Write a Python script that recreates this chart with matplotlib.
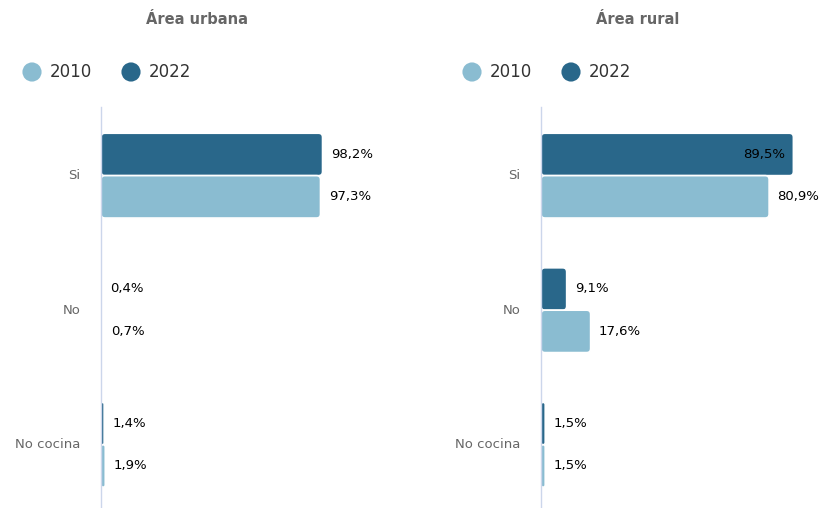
import matplotlib.pyplot as plt
from matplotlib.patches import FancyBboxPatch

# data
categories = ["Si", "No", "No cocina"]
years = ["2010", "2022"]
urbana_2010 = [97.3, 0.7, 1.9]
urbana_2022 = [98.2, 0.4, 1.4]
rural_2010 = [80.9, 17.6, 1.5]
rural_2022 = [89.5, 9.1, 1.5]
labels_urbana_2010 = ["97,3%", "0,7%", "1,9%"]
labels_urbana_2022 = ["98,2%", "0,4%", "1,4%"]
labels_rural_2010 = ["80,9%", "17,6%", "1,5%"]
labels_rural_2022 = ["89,5%", "9,1%", "1,5%"]

c2010 = "#8abcd1"
c2022 = "#29678a"

W, H = 824, 508
fig = plt.figure(figsize=(W / 100, H / 100), dpi=100)


def px(x, y):
    return x / W, 1 - y / H


def rounded(ax, bars, color, r_px, xmax, ax_w_px, ax_h_px, yspan):
    # swap plain bars for rounded ones
    ux = xmax / ax_w_px
    uy = yspan / ax_h_px
    for b in bars:
        x, y = b.get_x(), b.get_y()
        w, h = b.get_width(), b.get_height()
        b.remove()
        r = min(r_px * ux, w / 2)
        p = FancyBboxPatch((x, y), w, h,
                           boxstyle="round,pad=0,rounding_size=%f" % r,
                           mutation_aspect=uy / ux,
                           facecolor=color, edgecolor="white", linewidth=1.2)
        ax.add_patch(p)


def panel(left_px, xmax, v2010, v2022, l2010, l2022, title, title_x):
    ax_w, ax_top, ax_bot = 282, 107, 508
    ax = fig.add_axes([left_px / W, 0, ax_w / W, (ax_bot - ax_top) / H])
    ypos = range(len(categories))
    bh = 0.315
    y22 = [y - bh / 2 + 0.01 for y in ypos]
    y10 = [y + bh / 2 + 0.01 for y in ypos]
    b22 = ax.barh(y22, v2022, height=bh, color=c2022)
    b10 = ax.barh(y10, v2010, height=bh, color=c2010)
    ylo, yhi = 2.48, -0.5
    ax.set_xlim(0, xmax)
    ax.set_ylim(ylo, yhi)
    rounded(ax, b22, c2022, 4, xmax, ax_w, ax_bot - ax_top, ylo - yhi)
    rounded(ax, b10, c2010, 4, xmax, ax_w, ax_bot - ax_top, ylo - yhi)

    for ys, vals, labs in [(y22, v2022, l2022), (y10, v2010, l2010)]:
        for y, v, t in zip(ys, vals, labs):
            if v / xmax * ax_w + 50 > ax_w:
                ax.annotate(t, (v, y), xytext=(-6, 0), textcoords="offset points",
                            ha="right", va="center", fontsize=9.5, color="black")
            else:
                ax.annotate(t, (v, y), xytext=(6, 0), textcoords="offset points",
                            ha="left", va="center", fontsize=9.5, color="black")

    ax.set_yticks(list(ypos))
    ax.set_yticklabels(categories, fontsize=9.5, color="#666666")
    ax.tick_params(axis="y", length=0, pad=15)
    ax.set_xticks([])
    for s in ["top", "right", "bottom"]:
        ax.spines[s].set_visible(False)
    ax.spines["left"].set_color("#ccd6eb")
    ax.spines["left"].set_linewidth(1)
    ax.patch.set_alpha(0)

    tx, ty = px(title_x, 20)
    fig.text(tx, ty, title, ha="center", va="center", fontsize=10.5,
             fontweight="bold", color="#666666")
    return ax


panel(101, 125, urbana_2010, urbana_2022, labels_urbana_2010, labels_urbana_2022,
      "Área urbana", 197)
panel(541, 100, rural_2010, rural_2022, labels_rural_2010, labels_rural_2022,
      "Área rural", 638)

# legends
leg = fig.add_axes([0, 0, 1, 1])
leg.set_xlim(0, W)
leg.set_ylim(H, 0)
leg.axis("off")
for x0 in [32, 472]:
    for i, (yr, c) in enumerate(zip(years, [c2010, c2022])):
        cx = x0 + i * 99
        leg.scatter([cx], [72], s=190, color=c, edgecolors="none")
        leg.text(cx + 18, 72, yr, ha="left", va="center", fontsize=12,
                 color="#333333")

fig.savefig("out.png", dpi=100)
